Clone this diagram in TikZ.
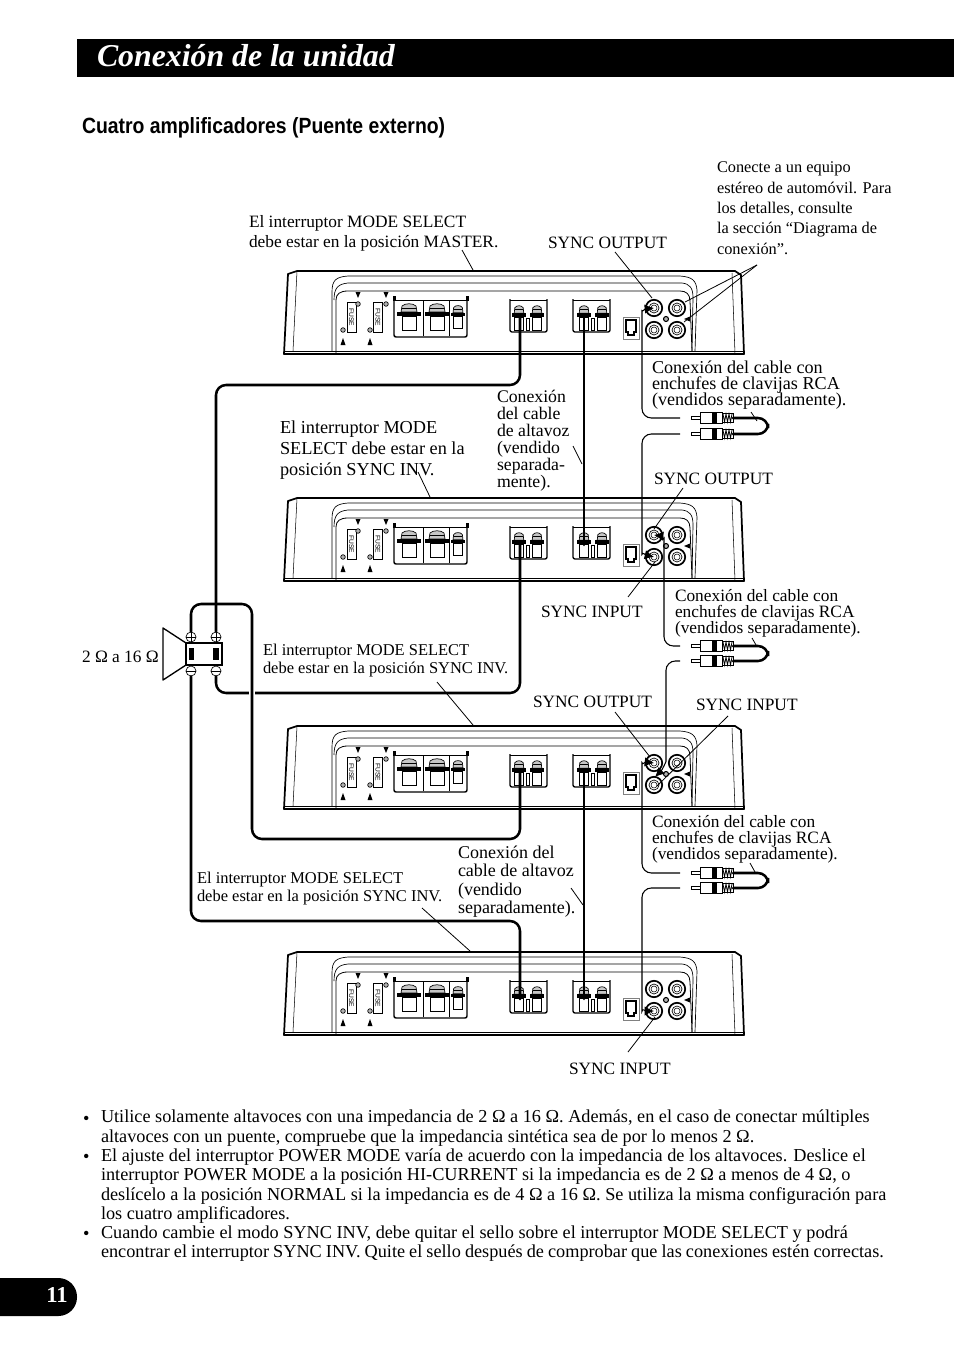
\documentclass[tikz,border=0pt]{standalone}
\usepackage{fontspec}
\setmainfont{Liberation Serif}
\newfontfamily\hdfont[FakeStretch=0.88]{Liberation Sans}
\newfontfamily\lblsans{Liberation Sans}
\usetikzlibrary{arrows.meta}
\newcommand{\fnt}[2]{\fontsize{#1pt}{#2pt}\selectfont\lineskiplimit=-8pt\lineskip=0pt }
\tikzset{
 wire/.style={line width=1.9pt,rounded corners=7.5pt,line cap=round},
 cable/.style={line width=0.8pt,rounded corners=7pt},
 leader/.style={line width=0.6pt},
 lbl/.style={inner sep=0,outer sep=0,anchor=west,align=left},
 tlbl/.style={inner sep=0,outer sep=0,anchor=north west,align=left},
 fuse/.style={draw,line width=0.6pt,minimum width=6.8pt,minimum height=23pt,inner sep=0,font=\lblsans\fontsize{5pt}{5pt}\selectfont},
 term/.style={draw,circle,line width=0.5pt,minimum size=7.5pt,inner sep=0},
 terminal/.pic={
  \draw[line width=0.5pt,fill=white] (-7,0) rectangle (7,14);
  \draw[line width=0.5pt,fill=gray!45] (-8,-4) -- (-7,-10) .. controls (-4,-13) and (4,-13) .. (7,-10) -- (8,-4) -- cycle;
  \draw[line width=0.5pt] (-7,-8) -- (7,-8);
  \fill (-12,-4) rectangle (12,0);
 },
 jack/.pic={
  \draw[line width=1.3pt,fill=white] (0,0) circle[radius=8.2];
  \draw[line width=0.5pt] (0,0) circle[radius=5];
  \draw[line width=0.4pt] (0,0) circle[radius=3];
 },
 amp/.pic={
  \coordinate (-b2) at (520,48);
  \coordinate (-b3) at (584,48);
  \coordinate (-ul) at (654,38);
  \coordinate (-ll) at (654,60);
  \coordinate (-ur) at (677,38);
  \coordinate (-lr) at (677,60);
  \draw[line width=1.3pt,line join=round] (284,84) -- (288,4) -- (297,1) -- (735,1) -- (741,5) -- (744,84) -- cycle;
  \draw[line width=0.4pt] (297,1) -- (293,81);
  \draw[line width=0.4pt] (732,3) -- (735,84);
  \draw[line width=0.5pt] (284,81) -- (744,81);
  \draw[line width=0.5pt] (332,81) -- (332,22) .. controls (332,10) and (336,7) .. (348,6) -- (680,6) .. controls (692,7) and (696,10) .. (697,20) -- (695,81);
  \draw[line width=0.5pt] (334,30) .. controls (334,18) and (338,14) .. (348,13) -- (682,13) .. controls (690,14) and (693,18) .. (693,28) -- (692,81);
  \draw[line width=0.6pt] (336,84) -- (336,30) .. controls (336,24) and (340,21) .. (348,21) -- (680,21) .. controls (686,21) and (690,24) .. (690,31) -- (692,81);
  % fuses
  \node[fuse] (-f1) at (351.5,47.5) {\rotatebox{-90}{FUSE}};
  \node[fuse] (-f2) at (378,47.5) {\rotatebox{-90}{FUSE}};
  \foreach \sx/\sy in {358/34,343/60,386/34,370/60}{
   \draw[fill=gray!60,line width=0.5pt] (\sx,\sy) circle[radius=2.3];}
  \fill (355.5,22) -- (360.5,22) -- (358,28) -- cycle;
  \fill (383.5,22) -- (388.5,22) -- (386,28) -- cycle;
  \fill (340.5,75) -- (345.5,75) -- (343,68) -- cycle;
  \fill (367.5,75) -- (372.5,75) -- (370,68) -- cycle;
  % big block
  \draw[line width=1.1pt,rounded corners=1.5pt] (394,28) -- (394,67) -- (467,67) -- (467,28);
  \draw[line width=0.6pt] (394,30) -- (467,30);
  \draw[line width=0.5pt] (423,30) -- (423,66);
  \draw[line width=0.5pt] (449,30) -- (449,66);
  \pic at (409,46) {terminal};
  \pic at (437,46) {terminal};
  \pic[xscale=0.62,yscale=0.85] at (458,46) {terminal};
  \fill (392.5,26) rectangle (395.5,31);
  \fill (465.5,26) rectangle (468.5,31);
  % small blocks
  \draw[line width=1pt,fill=white,rounded corners=1.5pt] (510,29) -- (510,62) -- (547,62) -- (547,29);
  \draw[line width=0.6pt] (510,30) -- (547,30);
  \pic[xscale=0.6,yscale=0.92] at (519,47) {terminal};
  \pic[xscale=0.6,yscale=0.92] at (537,47) {terminal};
  \draw[line width=0.4pt] (526.5,48) rectangle (529.5,60);
  \draw[line width=1pt,fill=white,rounded corners=1.5pt] (573,29) -- (573,62) -- (610,62) -- (610,29);
  \draw[line width=0.6pt] (573,30) -- (610,30);
  \pic[xscale=0.6,yscale=0.92] at (584,47) {terminal};
  \pic[xscale=0.6,yscale=0.92] at (602,47) {terminal};
  \draw[line width=0.4pt] (591.5,48) rectangle (594.5,60);
  % phone socket
  \draw[line width=0.5pt,gray] (623,47) rectangle (639,69);
  \draw[line width=1pt] (626,50) -- (636,50) -- (636,62) -- (634,62) -- (634,65) -- (628,65) -- (628,62) -- (626,62) -- cycle;
  % RCA
  \pic at (-ul) {jack};
  \pic at (-ur) {jack};
  \pic at (-ll) {jack};
  \pic at (-lr) {jack};
  \draw[fill=gray!60,line width=0.8pt] (666,49) circle[radius=2.5];
  \fill (684,49) -- (690,46.5) -- (690,51.5) -- cycle;
 },
 plug/.pic={
  \coordinate (-tail) at (733,0);
  \coordinate (-end) at (680,0);
  \draw[line width=0.5pt] (691,-1.8) rectangle (700,1.8);
  \draw[line width=0.6pt,fill=white] (700,-6) rectangle (722,5.5);
  \fill (712,-6) rectangle (717,5.5);
  \draw[line width=0.6pt] (722,-4.5) rectangle (733,4);
  \draw[line width=0.6pt] (723,-4) -- (724.5,4) -- (726,-4) -- (727.5,4) -- (729,-4) -- (730.5,4) -- (732,-4);
 },
 big/.style={font=\fnt{13}{15}},
 rca/.style={font=\fnt{13}{12}},
 small/.style={font=\fnt{12.35}{13.5}},
 body/.style={font=\fnt{13.68}{14.6}}
}
\begin{document}
\begin{tikzpicture}[x=0.75pt,y=-0.75pt]
\useasboundingbox (0,0) rectangle (954,1355);
% header
\fill (77,39) rectangle (954,77);
\node[lbl,text=white,font=\fnt{23.85}{28}\bfseries\itshape] (title) at (97,55.5) {Conexión de la unidad};
\node[lbl,font=\hdfont\fnt{16.53}{18}\bfseries] (sub) at (82,128) {Cuatro amplificadores (Puente externo)};
% amps
\pic (a1) at (0,270) {amp};
\pic (a2) at (0,497) {amp};
\pic (a3) at (0,725) {amp};
\pic (a4) at (0,951) {amp};
% speaker
\draw[line width=1pt,line join=round] (186,643) -- (163,628) -- (163,680) -- (186,665);
\node[draw,line width=1.2pt,minimum width=27pt,minimum height=16.5pt,inner sep=0] (spk) at (204,654) {};
\fill (189,648) rectangle (194,660);
\fill (213,648) rectangle (219,660);
\node[term] (p1) at (191,637) {};
\node[term] (p2) at (216,637) {};
\node[term] (m1) at (191,671) {};
\node[term] (m2) at (216,671) {};
\foreach \n in {p1,p2,m1,m2}{\draw[line width=0.5pt] (\n.west) -- (\n.east);}
\foreach \n in {p1,p2}{\draw[line width=0.5pt] (\n.north) -- (\n.south);}
% speaker wires
\draw[wire] (a1-b2) -- (a1-b2 |- 0,385) -- (p2 |- 0,385) -- (p2.north);
\draw[wire] (m2.south) -- (m2 |- 0,693) -- (a2-b2 |- 0,693) -- (a2-b2);
\draw[white,line width=4pt] (252,685) -- (252,701);
\draw[wire] (p1.north) -- (p1 |- 0,604) -- (252,604) -- (252,839) -- (a3-b2 |- 0,839) -- (a3-b2);
\draw[wire] (m1.south) -- (m1 |- 0,921) -- (a4-b2 |- 0,921) -- (a4-b2);
\draw[wire] (a1-b3) -- (a2-b3);
\draw[wire] (a3-b3) -- (a4-b3);
% plugs
\pic (pa) at (0,418) {plug};
\pic (pb) at (0,434) {plug};
\pic (pc) at (0,646) {plug};
\pic (pd) at (0,661) {plug};
\pic (pe) at (0,873) {plug};
\pic (pf) at (0,888) {plug};
\draw[wire] (pa-tail) -- ++(35,0) |- (pb-tail);
\draw[wire] (pc-tail) -- ++(35,0) |- (pd-tail);
\draw[wire] (pe-tail) -- ++(35,0) |- (pf-tail);
% RCA cables
\tikzset{tipa/.style={-{Latex[length=7pt,width=7pt]}}}
\draw[cable,tipa] (pa-end) -- (642,418) -- (642,320) .. controls (642,312) and (645,309) .. (a1-ul);
\draw[cable,tipa] (pb-end) -- (642,434) -- (642,545) .. controls (642,552) and (646,555) .. (a2-ll);
\draw[cable,tipa] (pc-end) -- (664,646) -- (664,548) .. controls (664,541) and (662,536) .. (a2-ul);
\draw[cable,tipa] (pd-end) -- (666,661) -- (666,752) .. controls (666,762) and (662,770) .. (655,777);
\draw[cable,tipa] (pe-end) -- (642,873) -- (642,772) .. controls (642,765) and (646,762) .. (a3-ul);
\draw[cable,tipa] (pf-end) -- (642,888) -- (642,1002) .. controls (642,1008) and (646,1011) .. (a4-ll);
% leaders
\coordinate (mA) at (462,250); \draw[leader] (mA) -- (473,270);
\coordinate (sA) at (615,252); \draw[leader] (sA) -- (652,298);
\coordinate (cA) at (757,265); \draw[leader] (cA) -- (685,302); \draw[leader] (cA) -- (684,322);
\draw[leader] (751,412) -- (757,421);
\draw[leader] (573,446) -- (582,464);
\draw[leader] (418,472) -- (430,497);
\draw[leader] (683,488) -- (654,529);
\draw[leader] (628,597) -- (655,562);
\draw[leader] (752,638) -- (756,645);
\draw[leader] (437,682) -- (473,725);
\draw[leader] (615,712) -- (650,757);
\draw[leader] (728,716) -- (657,786);
\draw[leader] (750,863) -- (755,872);
\draw[leader] (422,908) -- (470,951);
\draw[leader] (571,888) -- (583,905);
\draw[leader] (628,1052) -- (655,1017);
% labels
\node[tlbl,font=\fnt{12.25}{15.25}] (t1) at (717,162) {Conecte a un equipo\\estéreo de automóvil. Para\\los detalles, consulte\\la sección “Diagrama de\\conexión”.};
\node[tlbl,big] (t2) at (249,215) {El interruptor MODE SELECT\\debe estar en la posición MASTER.};
\node[lbl,big] (t3) at (548,242.5) {SYNC OUTPUT};
\node[tlbl,font=\fnt{13.6}{12}] (t4) at (652,361) {Conexión del cable con\\enchufes de clavijas RCA\\(vendidos separadamente).};
\node[tlbl,font=\fnt{13.3}{12.75}] (t5) at (497,390) {Conexión\\del cable\\de altavoz\\(vendido\\separada-\\mente).};
\node[tlbl,font=\fnt{13.7}{15.75}] (t6) at (280,421) {El interruptor MODE\\SELECT debe estar en la\\posición SYNC INV.};
\node[lbl,big] (t7) at (654,478.5) {SYNC OUTPUT};
\node[lbl,big] (t8) at (541,611.5) {SYNC INPUT};
\node[tlbl,rca] (t9) at (675,589) {Conexión del cable con\\enchufes de clavijas RCA\\(vendidos separadamente).};
\node[lbl,big] (t10) at (82,656.5) {2 Ω a 16 Ω};
\node[tlbl,small] (t11) at (263,644) {El interruptor MODE SELECT\\debe estar en la posición SYNC INV.};
\node[lbl,big] (t12) at (533,701.5) {SYNC OUTPUT};
\node[lbl,big] (t13) at (696,704.5) {SYNC INPUT};
\node[tlbl,rca] (t14) at (652,815) {Conexión del cable con\\enchufes de clavijas RCA\\(vendidos separadamente).};
\node[tlbl,font=\fnt{13.5}{13.75}] (t15) at (458,846) {Conexión del\\cable de altavoz\\(vendido\\separadamente).};
\node[tlbl,small] (t16) at (197,872) {El interruptor MODE SELECT\\debe estar en la posición SYNC INV.};
\node[lbl,big] (t17) at (569,1068.5) {SYNC INPUT};
% bullets
\node[lbl,body] (b1) at (83,1120) {•};
\node[tlbl,body] (x1) at (101,1110) {Utilice solamente altavoces con una impedancia de 2 Ω a 16 Ω. Además, en el caso de conectar múltiples\\altavoces con un puente, compruebe que la impedancia sintética sea de por lo menos 2 Ω.};
\node[lbl,body] (b2) at (83,1158.5) {•};
\node[tlbl,body] (x2) at (101,1148.5) {El ajuste del interruptor POWER MODE varía de acuerdo con la impedancia de los altavoces. Deslice el\\interruptor POWER MODE a la posición HI-CURRENT si la impedancia es de 2 Ω a menos de 4 Ω, o\\deslícelo a la posición NORMAL si la impedancia es de 4 Ω a 16 Ω. Se utiliza la misma configuración para\\los cuatro amplificadores.};
\node[lbl,body] (b3) at (83,1235.5) {•};
\node[tlbl,body] (x3) at (101,1225.5) {Cuando cambie el modo SYNC INV, debe quitar el sello sobre el interruptor MODE SELECT y podrá\\{\spaceskip=3.05pt encontrar el interruptor SYNC INV. Quite el sello después de comprobar que las conexiones estén correctas.}};
% page tab
\fill[rounded corners=14pt] (-40,1278) rectangle (77,1316);
\node[text=white,inner sep=0,font=\fnt{17}{18}\bfseries] (pg) at (57,1295) {11};
\end{tikzpicture}
\end{document}
